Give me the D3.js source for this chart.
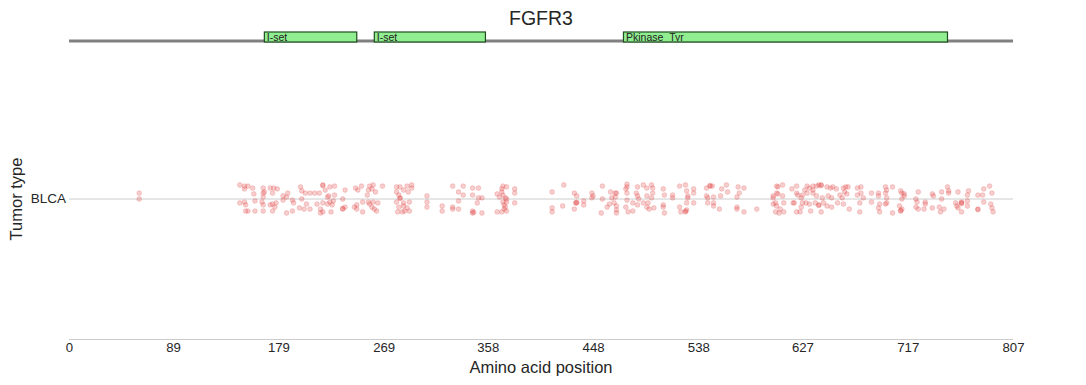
<!DOCTYPE html>
<html><head><meta charset="utf-8">
<script src="https://cdn.jsdelivr.net/npm/d3@7"></script>
<style>body{margin:0;background:#fff;} svg{display:block;font-family:"Liberation Sans",Arial,sans-serif;}</style>
</head><body>
<script>
const title = "FGFR3";
const proteinLength = 807;
const categories = ["BLCA"];
const tickLabels = [0, 89, 179, 269, 358, 448, 538, 627, 717, 807];
const domainNames = ["I-set", "I-set", "Pkinase_Tyr"];
const domainStarts = [167, 261, 474];
const domainEnds = [246, 356, 751];

// mutation amino-acid positions (all BLCA) and their strip jitter (category units)
const mutationPositions = [
  60,60,
  146,150,153,150,157,158,166,166,167,166,172,175,174,178,183,187,186,198,199,202,206,210,214,217,217,219,223,227,227,222,221,226,236,234,245,247,
  146,150,151,159,165,166,172,174,177,176,183,191,192,199,203,212,217,221,223,225,236,244,246,
  151,153,159,166,174,186,191,197,201,206,215,215,217,224,234,234,246,
  250,257,260,259,268,262,256,255,251,256,260,264,257,259,261,263,251,
  280,283,289,293,293,280,286,290,282,283,283,291,280,286,286,282,289,281,285,287,291,
  306,306,306,319,319,328,337,333,337,333,328,328,333,
  345,350,345,350,349,353,345,345,346,353,
  366,371,374,370,368,373,371,374,372,373,374,370,366,381,381,381,371,374,372,370,
  413,423,422,413,413,432,434,433,434,434,432,440,440,447,448,447,
  456,456,455,460,463,464,462,467,468,467,466,468,468,468,
  477,477,476,477,477,476,478,482,482,486,485,486,487,486,
  491,494,494,491,495,494,496,498,499,499,498,500,508,509,508,508,509,
  516,516,522,527,528,529,529,528,534,534,534,522,523,527,527,528,
  545,546,545,548,548,550,546,551,551,551,557,558,556,562,563,
  572,573,571,577,571,571,577,588,
  602,602,605,606,604,605,604,607,605,606,602,
  610,610,611,611,608,618,622,619,620,623,622,
  627,626,629,631,633,636,636,631,627,630,626,625,622,633,634,
  636,639,641,643,643,639,638,641,641,644,645,643,
  648,651,653,656,649,652,648,652,659,661,657,
  662,664,666,663,665,667,662,
  674,677,674,677,679,676,676,686,686,692,692,693,692,693,
  699,699,699,698,698,698,
  704,711,712,714,714,712,710,712,711,711,704,
  726,724,725,724,726,732,732,731,738,739,738,
  744,745,746,746,751,752,752,748,
  760,758,759,760,763,763,763,763,768,768,769,768,
  777,777,777,781,782,782,787,789,788,789,790
];
const mutationJitter = [
  0.021,0,
  0.050,0.046,0.046,0.036,0.039,0.018,0.039,0.021,0.025,0.007,0.039,0.039,0.021,0.036,0.011,0.021,0.007,0.043,0.029,0.021,0.021,0.021,0.021,0.050,0.048,0.032,0.043,0.046,0.014,0.011,0.007,-0.007,0.032,0,0.039,0.032,
  -0.014,-0.011,-0.021,-0.007,-0.011,-0.021,-0.021,-0.018,-0.014,-0.029,-0.004,-0.004,-0.014,0,-0.018,-0.018,-0.014,-0.018,-0.011,-0.021,-0.029,-0.029,-0.021,
  -0.043,-0.043,-0.043,-0.043,-0.043,-0.050,-0.043,-0.032,-0.036,-0.036,-0.036,-0.050,-0.046,-0.046,-0.036,-0.034,-0.036,
  0.046,0.046,0.050,0.036,0.046,0.025,0.032,0.014,-0.011,-0.011,-0.011,-0.014,-0.018,-0.029,-0.036,-0.043,-0.046,
  0.043,0.043,0.046,0.050,0.039,0.025,0.032,0.025,0.014,0.004,0.002,-0.011,-0.011,-0.014,-0.025,-0.029,-0.032,-0.046,-0.046,-0.043,-0.043,
  0.011,-0.011,-0.029,-0.025,-0.043,0.046,0.046,0.025,0.014,-0.007,-0.029,-0.036,-0.036,
  0.039,0.039,0.014,0.004,-0.014,0.004,-0.043,-0.050,-0.048,-0.050,
  0.018,0.046,0.043,0.025,0.007,0.004,-0.011,-0.011,-0.021,-0.029,-0.043,-0.046,-0.046,0.036,0.021,-0.014,0.014,0,-0.036,0.036,
  0.025,0.050,-0.025,-0.032,-0.046,0.021,0.011,-0.014,-0.014,-0.012,-0.036,-0.007,-0.021,0.021,0.011,0.004,
  0.046,0,-0.050,-0.029,0.025,0.004,-0.018,0.021,0.021,0.007,-0.014,-0.025,-0.039,-0.050,
  0.053,0.043,0.036,0.021,-0.004,-0.029,-0.046,-0.014,-0.043,0.043,0.021,0.011,0,-0.021,
  0.050,0.039,0.011,-0.014,-0.014,-0.029,-0.036,0.050,0.039,0.021,0.004,-0.032,0.036,0.014,-0.021,-0.029,-0.050,
  0.014,0.004,0.046,0.050,0.029,0.011,0.004,-0.014,0.036,0.021,-0.014,-0.029,-0.046,-0.046,-0.043,-0.039,
  0.011,0.004,0.039,0.046,0.048,0.046,-0.014,0.007,-0.014,-0.025,0.011,0.036,-0.036,0.050,0.025,
  0.043,0.021,0.007,0.039,-0.029,-0.036,-0.046,-0.036,
  0.011,0.004,0.021,0.043,-0.014,-0.025,-0.046,-0.050,0.046,0.018,-0.018,
  0.050,0.011,-0.014,-0.046,-0.036,0.036,0.046,-0.014,-0.014,0.014,0.021,
  0.014,0.004,0.032,0.046,0.039,0.032,0.021,0.021,-0.014,-0.014,-0.029,-0.046,-0.046,-0.018,-0.043,
  0.046,0.046,0.050,0.050,0.048,0.011,-0.014,-0.021,-0.023,0.004,-0.014,-0.046,
  0.043,0.039,0.043,0.036,0.011,0.004,-0.025,-0.029,0.014,0.004,-0.014,
  0.039,0.043,0.043,0.025,0.018,-0.036,-0.018,
  0.039,0.043,0.014,0.021,0.004,-0.014,-0.046,0.021,-0.011,0.021,0.011,-0.018,-0.032,-0.046,
  0.032,0.004,-0.014,0.043,0.021,-0.018,
  0.043,0.029,0.021,0.018,0.011,0,-0.025,-0.036,-0.043,-0.041,-0.050,
  0.025,0,-0.011,-0.029,-0.036,-0.011,-0.018,-0.036,0.018,0.011,-0.032,
  -0.029,-0.046,0.025,0,0.043,0.029,0.021,-0.036,
  0.025,-0.014,-0.025,-0.032,-0.011,-0.014,-0.016,-0.046,0.014,-0.007,0.029,-0.025,
  0.014,-0.036,-0.038,0.014,0.036,-0.011,0.046,0.021,-0.018,-0.032,-0.046
];

const W = 1086, H = 385;
const margin = {left: 69, right: 73, top: 59, bottom: 46};
const textColor = "#262626";

const svg = d3.select("body").append("svg").attr("width", W).attr("height", H);

const x = d3.scaleLinear().domain([0, proteinLength]).range([margin.left, W - margin.right]);
const y = d3.scaleBand().domain(categories).range([margin.top, H - margin.bottom]).padding(0);
const bw = y.bandwidth();

// title
svg.append("text").attr("x", (x.range()[0] + x.range()[1]) / 2).attr("y", 18)
  .attr("text-anchor", "middle").attr("dominant-baseline", "central")
  .attr("font-size", 19.5).attr("fill", textColor).text(title);

// protein backbone + domains
const protY = 41;
svg.append("line").attr("x1", x(0)).attr("x2", x(proteinLength)).attr("y1", protY).attr("y2", protY)
  .attr("stroke", "#808080").attr("stroke-width", 3);
const domains = domainNames.map((n, i) => ({name: n, start: domainStarts[i], end: domainEnds[i]}));
const defs = svg.append("defs");
defs.selectAll("clipPath").data(domains).join("clipPath").attr("id", (d, i) => "dclip" + i)
  .append("rect").attr("x", d => x(d.start)).attr("y", 32).attr("width", d => x(d.end) - x(d.start)).attr("height", 9.4);
const dg = svg.append("g").selectAll("g").data(domains).join("g");
dg.append("rect").attr("x", d => x(d.start)).attr("y", 32).attr("width", d => x(d.end) - x(d.start)).attr("height", 10)
  .attr("fill", "#90ee90");
dg.append("text").attr("clip-path", (d, i) => `url(#dclip${i})`)
  .attr("x", d => x(d.start) + 2.5).attr("y", 41)
  .attr("font-size", 10.5).attr("fill", "#222").text(d => d.name);
dg.append("rect").attr("x", d => x(d.start)).attr("y", 32).attr("width", d => x(d.end) - x(d.start)).attr("height", 10)
  .attr("fill", "none").attr("stroke", "#1e4d1e").attr("stroke-width", 1.2);

// category grid line
svg.append("g").selectAll("line").data(categories).join("line")
  .attr("x1", x(0)).attr("x2", x(proteinLength))
  .attr("y1", d => y(d) + bw / 2).attr("y2", d => y(d) + bw / 2)
  .attr("stroke", "#cccccc").attr("stroke-width", 1);

// x axis line
svg.append("line").attr("x1", x(0)).attr("x2", x(proteinLength))
  .attr("y1", H - margin.bottom + 0.5).attr("y2", H - margin.bottom + 0.5)
  .attr("stroke", "#cccccc").attr("stroke-width", 1);

const xAxis = svg.append("g").attr("transform", `translate(0,${H - margin.bottom})`)
  .call(d3.axisBottom(x).tickValues(tickLabels).tickFormat(d3.format("d")).tickSize(0).tickPadding(4));
xAxis.select(".domain").remove();
xAxis.selectAll("text").attr("font-size", 13.2).attr("fill", textColor).attr("font-family", "Liberation Sans, Arial, sans-serif");

const yAxis = svg.append("g").attr("transform", `translate(${margin.left},0)`)
  .call(d3.axisLeft(y).tickSize(0).tickPadding(3));
yAxis.select(".domain").remove();
yAxis.selectAll("text").attr("font-size", 13.5).attr("fill", textColor).attr("font-family", "Liberation Sans, Arial, sans-serif");

svg.append("text").attr("x", (x.range()[0] + x.range()[1]) / 2).attr("y", 367)
  .attr("text-anchor", "middle").attr("dominant-baseline", "central")
  .attr("font-size", 16.5).attr("fill", textColor).text("Amino acid position");
svg.append("text").attr("transform", `translate(16,${margin.top + bw / 2}) rotate(-90)`)
  .attr("text-anchor", "middle").attr("dominant-baseline", "central")
  .attr("font-size", 16.5).attr("fill", textColor).text("Tumor type");

// points
const pts = mutationPositions.map((p, i) => ({pos: p, j: mutationJitter[i], cat: categories[0]}));
svg.append("g").selectAll("circle").data(pts).join("circle")
  .attr("cx", d => x(d.pos))
  .attr("cy", d => y(d.cat) + bw / 2 - d.j * bw)
  .attr("r", 2.4)
  .attr("fill", "#e03c3c").attr("fill-opacity", 0.25)
  .attr("stroke", "#e03c3c").attr("stroke-opacity", 0.25).attr("stroke-width", 0.8);
</script>
</body></html>
